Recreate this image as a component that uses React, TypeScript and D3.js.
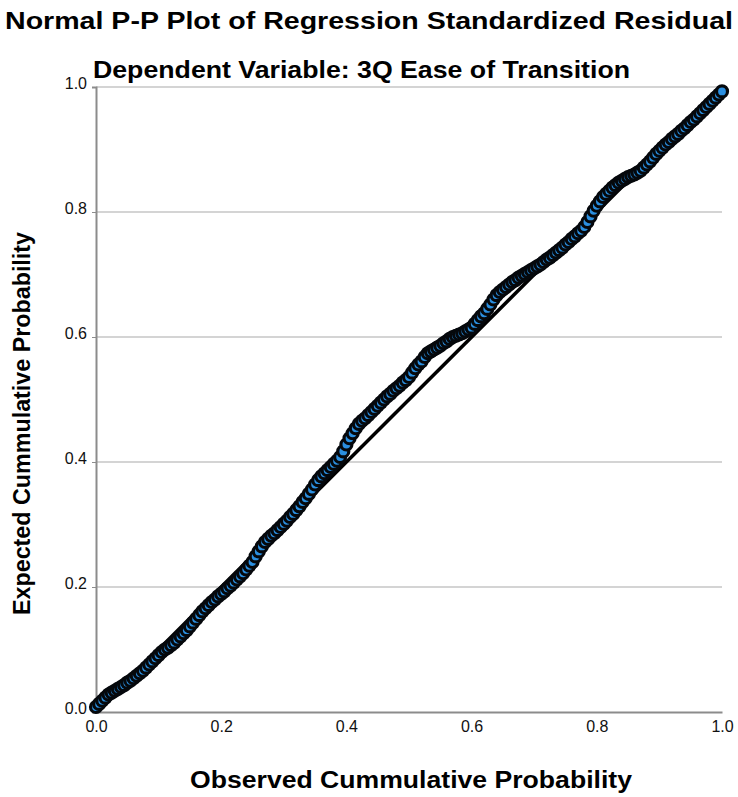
import React, { useRef, useEffect } from 'react';
import * as d3 from 'd3';

// observed cumulative probability (x) and expected cumulative probability (y)
const observed = [
  0.000, 0.005, 0.010, 0.015, 0.020, 0.025, 0.030, 0.035, 0.040, 0.045,
  0.050, 0.055, 0.060, 0.065, 0.070, 0.075, 0.080, 0.085, 0.090, 0.095,
  0.100, 0.105, 0.110, 0.115, 0.120, 0.125, 0.130, 0.135, 0.140, 0.145,
  0.150, 0.155, 0.160, 0.165, 0.170, 0.175, 0.180, 0.185, 0.190, 0.195,
  0.200, 0.205, 0.210, 0.215, 0.220, 0.225, 0.230, 0.235, 0.240, 0.245,
  0.250, 0.255, 0.260, 0.265, 0.270, 0.275, 0.280, 0.285, 0.290, 0.295,
  0.300, 0.305, 0.310, 0.315, 0.320, 0.325, 0.330, 0.335, 0.340, 0.345,
  0.350, 0.355, 0.360, 0.365, 0.370, 0.375, 0.380, 0.385, 0.390, 0.395,
  0.400, 0.405, 0.410, 0.415, 0.420, 0.425, 0.430, 0.435, 0.440, 0.445,
  0.450, 0.455, 0.460, 0.465, 0.470, 0.475, 0.480, 0.485, 0.490, 0.495,
  0.500, 0.505, 0.510, 0.515, 0.520, 0.525, 0.530, 0.535, 0.540, 0.545,
  0.550, 0.555, 0.560, 0.565, 0.570, 0.575, 0.580, 0.585, 0.590, 0.595,
  0.600, 0.605, 0.610, 0.615, 0.620, 0.625, 0.630, 0.635, 0.640, 0.645,
  0.650, 0.655, 0.660, 0.665, 0.670, 0.675, 0.680, 0.685, 0.690, 0.695,
  0.700, 0.705, 0.710, 0.715, 0.720, 0.725, 0.730, 0.735, 0.740, 0.745,
  0.750, 0.755, 0.760, 0.765, 0.770, 0.775, 0.780, 0.785, 0.790, 0.795,
  0.800, 0.805, 0.810, 0.815, 0.820, 0.825, 0.830, 0.835, 0.840, 0.845,
  0.850, 0.855, 0.860, 0.865, 0.870, 0.875, 0.880, 0.885, 0.890, 0.895,
  0.900, 0.905, 0.910, 0.915, 0.920, 0.925, 0.930, 0.935, 0.940, 0.945,
  0.950, 0.955, 0.960, 0.965, 0.970, 0.975, 0.980, 0.985, 0.990, 0.995,
  1.000,
];

const expected = [
  0.008, 0.013, 0.018, 0.023, 0.028, 0.031, 0.034, 0.037, 0.040, 0.043,
  0.047, 0.050, 0.054, 0.058, 0.062, 0.066, 0.071, 0.076, 0.081, 0.086,
  0.091, 0.096, 0.100, 0.103, 0.107, 0.111, 0.116, 0.121, 0.126, 0.131,
  0.137, 0.143, 0.149, 0.155, 0.161, 0.166, 0.171, 0.176, 0.180, 0.185,
  0.189, 0.193, 0.198, 0.202, 0.207, 0.212, 0.217, 0.222, 0.228, 0.234,
  0.240, 0.249, 0.257, 0.265, 0.272, 0.277, 0.282, 0.286, 0.291, 0.296,
  0.301, 0.306, 0.312, 0.317, 0.323, 0.329, 0.336, 0.342, 0.349, 0.356,
  0.364, 0.371, 0.377, 0.382, 0.387, 0.392, 0.397, 0.402, 0.408, 0.417,
  0.428, 0.438, 0.446, 0.454, 0.461, 0.466, 0.470, 0.475, 0.480, 0.485,
  0.490, 0.495, 0.500, 0.505, 0.509, 0.514, 0.518, 0.522, 0.527, 0.531,
  0.536, 0.543, 0.550, 0.556, 0.561, 0.568, 0.574, 0.577, 0.580, 0.583,
  0.586, 0.590, 0.593, 0.597, 0.600, 0.602, 0.604, 0.606, 0.609, 0.612,
  0.615, 0.621, 0.627, 0.633, 0.638, 0.645, 0.652, 0.660, 0.667, 0.672,
  0.676, 0.680, 0.684, 0.688, 0.691, 0.695, 0.698, 0.701, 0.704, 0.707,
  0.710, 0.713, 0.716, 0.720, 0.724, 0.727, 0.731, 0.735, 0.739, 0.743,
  0.748, 0.752, 0.757, 0.761, 0.766, 0.770, 0.776, 0.784, 0.793, 0.802,
  0.810, 0.817, 0.824, 0.829, 0.834, 0.839, 0.843, 0.847, 0.850, 0.853,
  0.856, 0.858, 0.860, 0.863, 0.866, 0.871, 0.876, 0.881, 0.887, 0.893,
  0.898, 0.903, 0.908, 0.912, 0.917, 0.921, 0.925, 0.930, 0.934, 0.939,
  0.944, 0.948, 0.953, 0.958, 0.963, 0.968, 0.973, 0.978, 0.983, 0.988,
  0.993,
];

const tickValues = [0.0, 0.2, 0.4, 0.6, 0.8, 1.0];
const gridValues = [0.2, 0.4, 0.6, 0.8, 1.0];

const title = 'Normal P-P Plot of Regression Standardized Residual';
const subtitle = 'Dependent Variable: 3Q Ease of Transition';
const xLabel = 'Observed Cummulative Probability';
const yLabel = 'Expected Cummulative Probability';

function App() {
  const ref = useRef<SVGSVGElement>(null);

  useEffect(() => {
    const node = ref.current;
    if (!node) return;
    node.querySelectorAll('*').forEach(n => n.remove());
    const svg = d3.select(node);

    const margin = { top: 87, right: 16, bottom: 85, left: 96 };
    const width = 738;
    const height = 797;

    const x = d3.scaleLinear().domain([0, 1]).range([margin.left, width - margin.right]);
    const y = d3.scaleLinear().domain([0, 1]).range([height - margin.bottom, margin.top]);

    const narrow = 'Liberation Sans Narrow, Liberation Sans, Arial, sans-serif';

    // titles
    svg.append('text')
      .attr('x', 5).attr('y', 29)
      .attr('textLength', 728).attr('lengthAdjust', 'spacingAndGlyphs')
      .attr('font-family', narrow)
      .attr('font-weight', 'bold').attr('font-size', 24)
      .text(title);

    svg.append('text')
      .attr('x', 93).attr('y', 78)
      .attr('textLength', 537).attr('lengthAdjust', 'spacingAndGlyphs')
      .attr('font-family', narrow)
      .attr('font-weight', 'bold').attr('font-size', 24)
      .text(subtitle);

    // gridlines
    svg.append('g')
      .selectAll('line')
      .data(gridValues)
      .join('line')
      .attr('x1', x(0)).attr('x2', x(1))
      .attr('y1', d => y(d)).attr('y2', d => y(d))
      .attr('stroke', '#d4d4d4').attr('stroke-width', 2);

    // axes
    const yAxis = d3.axisLeft(y).tickValues(tickValues).tickSize(4).tickFormat(d3.format('.1f'));
    const xAxis = d3.axisBottom(x).tickValues(tickValues).tickSize(0).tickFormat(d3.format('.1f'));

    const gy = svg.append('g').attr('transform', `translate(${margin.left},0)`).call(yAxis);
    const gx = svg.append('g').attr('transform', `translate(0,${height - margin.bottom})`).call(xAxis);

    [gx, gy].forEach(g => {
      g.select('.domain').attr('stroke', '#8c8c8c').attr('stroke-width', 2);
      g.selectAll('.tick line').attr('stroke', '#8c8c8c').attr('stroke-width', 1);
      g.selectAll('.tick text')
        .attr('font-family', 'Liberation Sans, Arial, sans-serif')
        .attr('font-size', 16)
        .attr('fill', '#111');
    });
    gy.selectAll('.tick text').attr('x', -9).attr('dy', '0.1em');
    gx.selectAll('.tick text').attr('y', 9).attr('dy', '0.71em');

    // reference diagonal
    svg.append('line')
      .attr('x1', x(0)).attr('y1', y(0))
      .attr('x2', x(1)).attr('y2', y(1))
      .attr('stroke', '#000').attr('stroke-width', 3.5);

    // points
    svg.append('g')
      .selectAll('circle')
      .data(observed)
      .join('circle')
      .attr('cx', d => x(d))
      .attr('cy', (d, i) => y(expected[i]))
      .attr('r', 5.5)
      .attr('fill', '#2b8fe0')
      .attr('stroke', '#05080c')
      .attr('stroke-width', 3.2);

    // axis labels
    svg.append('text')
      .attr('x', 190).attr('y', 788)
      .attr('textLength', 442).attr('lengthAdjust', 'spacingAndGlyphs')
      .attr('font-family', 'Liberation Sans, Arial, sans-serif')
      .attr('font-weight', 'bold').attr('font-size', 23)
      .text(xLabel);

    svg.append('text')
      .attr('transform', 'translate(30,615) rotate(-90)')
      .attr('textLength', 383).attr('lengthAdjust', 'spacingAndGlyphs')
      .attr('font-family', narrow)
      .attr('font-weight', 'bold').attr('font-size', 23)
      .text(yLabel);
  }, []);

  return (
    <svg
      ref={ref}
      width={738}
      height={797}
      style={{ position: 'absolute', left: 0, top: 0, background: '#fff' }}
    />
  );
}

export default App;
